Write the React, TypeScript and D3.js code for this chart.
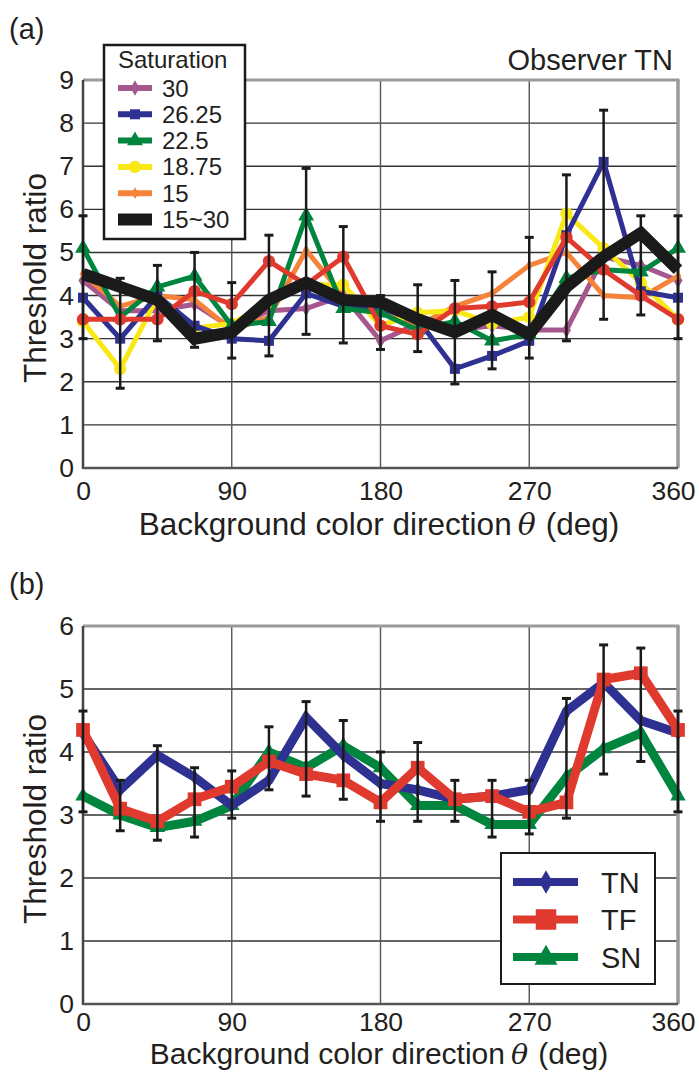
import React, { useEffect, useRef } from "react";
import * as d3 from "d3";

// background colour direction (deg), one point every 22.5 deg
const angles = [0, 22.5, 45, 67.5, 90, 112.5, 135, 157.5, 180, 202.5, 225, 247.5, 270, 292.5, 315, 337.5, 360];
const xTicks = [0, 90, 180, 270, 360];
const yTicksA = [0, 1, 2, 3, 4, 5, 6, 7, 8, 9];
const yTicksB = [0, 1, 2, 3, 4, 5, 6];

// (a) observer TN, one line per saturation
const sat30 = [4.35, 3.65, 3.65, 3.8, 3.25, 3.65, 3.7, 4.0, 2.95, 3.35, 3.2, 3.3, 3.2, 3.2, 4.9, 4.7, 4.35];
const sat2625 = [3.95, 3.0, 4.0, 3.3, 3.0, 2.95, 4.05, 3.75, 3.7, 3.45, 2.3, 2.6, 2.95, 5.4, 7.1, 4.1, 3.95];
const sat225 = [5.1, 3.5, 4.2, 4.45, 3.3, 3.4, 5.85, 3.7, 3.6, 3.2, 3.4, 2.95, 3.1, 4.4, 4.6, 4.55, 5.1];
const sat1875 = [3.4, 2.3, 3.95, 3.25, 3.35, 3.85, 4.25, 4.25, 3.3, 3.6, 3.65, 3.35, 3.5, 5.9, 5.1, 4.3, 3.45];
const sat15 = [4.5, 3.75, 4.0, 3.9, 3.2, 3.5, 5.05, 4.0, 3.6, 3.3, 3.75, 4.05, 4.7, 5.0, 4.0, 3.95, 4.45];
const satRed = [3.45, 3.45, 3.45, 4.1, 3.8, 4.8, 4.25, 4.9, 3.3, 3.1, 3.7, 3.75, 3.85, 5.35, 4.6, 4.0, 3.45];
const sat15to30 = [4.5, 4.2, 3.9, 3.0, 3.15, 3.9, 4.3, 3.9, 3.85, 3.45, 3.15, 3.55, 3.1, 4.2, 4.9, 5.45, 4.6];
const errHiA = [5.85, 4.4, 4.7, 5.0, 4.3, 5.4, 6.95, 5.6, 4.0, 4.25, 4.35, 4.55, 5.35, 6.8, 8.3, 5.85, 5.85];
const errLoA = [3.0, 1.85, 2.95, 2.8, 2.55, 2.6, 3.1, 2.9, 2.75, 2.7, 1.95, 2.3, 2.55, 2.95, 3.45, 3.55, 3.0];

// (b) three observers
const obsTN = [4.3, 3.4, 3.95, 3.6, 3.15, 3.55, 4.55, 3.95, 3.5, 3.4, 3.25, 3.3, 3.4, 4.65, 5.1, 4.5, 4.3];
const obsTF = [4.35, 3.1, 2.9, 3.25, 3.45, 3.85, 3.65, 3.55, 3.2, 3.75, 3.25, 3.3, 3.05, 3.2, 5.15, 5.25, 4.35];
const obsSN = [3.3, 3.0, 2.8, 2.9, 3.15, 4.0, 3.75, 4.1, 3.75, 3.15, 3.15, 2.85, 2.85, 3.6, 4.05, 4.3, 3.3];
const errHiB = [4.65, 3.55, 4.1, 3.75, 3.7, 4.4, 4.8, 4.5, 4.0, 4.15, 3.55, 3.55, 3.55, 4.85, 5.7, 5.65, 4.65];
const errLoB = [3.05, 2.75, 2.6, 2.65, 2.95, 3.4, 3.3, 3.25, 2.9, 2.9, 2.9, 2.65, 2.7, 2.95, 3.65, 3.85, 3.05];

const FONT = "'Liberation Sans', Arial, Helvetica, sans-serif";
const C = {
  purple: "#a5578e", blue: "#2e3192", green: "#00853f", yellow: "#f9e816",
  orange: "#f5843a", red: "#e03a2e", black: "#1a1a1a"
};

// draw order for panel (a)
const linesA = [
  { name: "30", v: sat30, color: C.purple, sym: d3.symbolDiamond, size: 70, w: 5 },
  { name: "15", v: sat15, color: C.orange, sym: d3.symbolDiamond, size: 40, w: 5 },
  { name: "18.75", v: sat1875, color: C.yellow, sym: d3.symbolCircle, size: 120, w: 5 },
  { name: "26.25", v: sat2625, color: C.blue, sym: d3.symbolSquare, size: 100, w: 5 },
  { name: "22.5", v: sat225, color: C.green, sym: d3.symbolTriangle, size: 110, w: 5 },
  { name: "", v: satRed, color: C.red, sym: d3.symbolCircle, size: 120, w: 5 },
  { name: "15~30", v: sat15to30, color: C.black, sym: null, size: 0, w: 12 }
];
const legendA = ["30", "26.25", "22.5", "18.75", "15", "15~30"];

const linesB = [
  { name: "SN", v: obsSN, color: C.green, sym: d3.symbolTriangle, size: 230 },
  { name: "TN", v: obsTN, color: C.blue, sym: d3.symbolDiamond, size: 160 },
  { name: "TF", v: obsTF, color: C.red, sym: d3.symbolSquare, size: 420 }
];
const legendB = ["TN", "TF", "SN"];

function drawPanel(svg, yMax, yTicks, top, bottom, lines, errLo, errHi, markerScale, tickPad, titleGap, titleSize) {
  const left = 83, right = 678;
  const x = d3.scaleLinear().domain([0, 360]).range([left, right]);
  const y = d3.scaleLinear().domain([0, yMax]).range([bottom, top]);
  const g = svg.append("g");

  // grid
  g.selectAll(".hg").data(yTicks.filter(d => d > 0 && d < yMax)).enter().append("line")
    .attr("x1", left).attr("x2", right).attr("y1", d => y(d)).attr("y2", d => y(d))
    .attr("stroke", "#333").attr("stroke-width", 1.4);
  g.selectAll(".vg").data(xTicks.filter(d => d > 0 && d < 360)).enter().append("line")
    .attr("x1", d => x(d)).attr("x2", d => x(d)).attr("y1", top).attr("y2", bottom)
    .attr("stroke", "#555").attr("stroke-width", 1.4);

  // frame
  g.append("line").attr("x1", left).attr("x2", right + 1.5).attr("y1", top).attr("y2", top)
    .attr("stroke", "#9a9a9a").attr("stroke-width", 3);
  g.append("line").attr("x1", right).attr("x2", right).attr("y1", top).attr("y2", bottom)
    .attr("stroke", "#9a9a9a").attr("stroke-width", 3.5);
  g.append("line").attr("x1", left).attr("x2", left).attr("y1", top).attr("y2", bottom + 1)
    .attr("stroke", "#444").attr("stroke-width", 2.5);
  g.append("line").attr("x1", left).attr("x2", right).attr("y1", bottom).attr("y2", bottom)
    .attr("stroke", "#555").attr("stroke-width", 2.5);

  // axes labels
  const ax = g.append("g").attr("transform", "translate(0," + bottom + ")")
    .call(d3.axisBottom(x).tickValues(xTicks).tickSize(0).tickPadding(tickPad).tickFormat(d3.format("d")));
  const ay = g.append("g").attr("transform", "translate(" + left + ",0)")
    .call(d3.axisLeft(y).tickValues(yTicks).tickSize(0).tickPadding(9).tickFormat(d3.format("d")));
  [ax, ay].forEach(a => {
    a.select(".domain").remove();
    a.selectAll("text").attr("font-size", 26.5).attr("font-family", FONT).attr("fill", "#231f20");
  });
  // keep "360" inside the page
  ax.selectAll("text").filter(d => d === 360).attr("dx", -5);

  const line = d3.line().x((d, i) => x(angles[i])).y(d => y(d));
  lines.forEach(s => {
    g.append("path").datum(s.v).attr("fill", "none").attr("stroke", s.color)
      .attr("stroke-width", s.w || 9).attr("stroke-linejoin", "miter").attr("stroke-miterlimit", 3)
      .attr("d", line);
    if (s.sym) {
      g.selectAll(null).data(s.v).enter().append("path")
        .attr("transform", (d, i) => "translate(" + x(angles[i]) + "," + y(d) + ")")
        .attr("d", d3.symbol().type(s.sym).size(s.size * markerScale))
        .attr("fill", s.color);
    }
  });

  // error bars
  const eb = g.append("g").attr("stroke", "#1a1a1a");
  angles.forEach((a, i) => {
    const cx = x(a);
    eb.append("line").attr("x1", cx).attr("x2", cx).attr("y1", y(errLo[i])).attr("y2", y(errHi[i]))
      .attr("stroke-width", 2.5);
    [errLo[i], errHi[i]].forEach(v => {
      eb.append("line").attr("x1", cx - 4.5).attr("x2", cx + 4.5).attr("y1", y(v)).attr("y2", y(v))
        .attr("stroke-width", 3);
    });
  });

  // titles
  const xt = g.append("text").attr("x", 379).attr("y", bottom + titleGap).attr("text-anchor", "middle")
    .attr("font-size", titleSize).attr("font-family", FONT).attr("fill", "#231f20")
    .text("Background color direction");
  xt.append("tspan").attr("dx", 6).attr("font-family", "'DejaVu Serif', serif").attr("font-style", "italic")
    .attr("font-size", titleSize - 1.5).text("\u03b8");
  xt.append("tspan").attr("dx", 10).text("(deg)");

  g.append("text").attr("transform", "translate(46," + ((top + bottom) / 2 + 4) + ") rotate(-90)")
    .attr("text-anchor", "middle").attr("font-size", 31.5).attr("font-family", FONT).attr("fill", "#231f20")
    .text("Threshold ratio");

  return { x, y, g };
}

export default function App() {
  const ref = useRef(null);

  useEffect(() => {
    document.body.style.margin = "0";
    const svg = d3.select(ref.current);
    svg.selectAll("*").remove();
    svg.append("rect").attr("width", 699).attr("height", 1073).attr("fill", "#fff");

    // ---- panel (a)
    drawPanel(svg, 9, yTicksA, 80, 468, linesA, errLoA, errHiA, 1, 13, 67, 31.5);
    svg.append("text").attr("x", 9).attr("y", 39).attr("font-size", 29).attr("font-family", FONT)
      .attr("fill", "#231f20").text("(a)");
    svg.append("text").attr("x", 673).attr("y", 70).attr("text-anchor", "end").attr("font-size", 29)
      .attr("font-family", FONT).attr("fill", "#231f20").text("Observer TN");

    const la = svg.append("g");
    la.append("rect").attr("x", 104).attr("y", 45).attr("width", 141).attr("height", 194)
      .attr("fill", "#fff").attr("stroke", "#1a1a1a").attr("stroke-width", 2.5);
    la.append("text").attr("x", 118).attr("y", 68).attr("font-size", 24).attr("font-family", FONT)
      .attr("fill", "#231f20").text("Saturation");
    legendA.forEach((name, i) => {
      const s = linesA.find(d => d.name === name);
      const cy = 88 + i * 26.3;
      la.append("line").attr("x1", 118).attr("x2", 152).attr("y1", cy).attr("y2", cy)
        .attr("stroke", s.color).attr("stroke-width", s.w === 12 ? 12 : 6);
      if (s.sym) {
        la.append("path").attr("transform", "translate(135," + cy + ")")
          .attr("d", d3.symbol().type(s.sym).size(s.size)).attr("fill", s.color);
      }
      la.append("text").attr("x", 162).attr("y", cy + 8.5).attr("font-size", 24).attr("font-family", FONT)
        .attr("fill", "#231f20").text(name);
    });

    // ---- panel (b)
    drawPanel(svg, 6, yTicksB, 626, 1004, linesB, errLoB, errHiB, 0.45, 8, 60, 30);
    svg.append("text").attr("x", 9).attr("y", 594).attr("font-size", 29).attr("font-family", FONT)
      .attr("fill", "#231f20").text("(b)");

    const lb = svg.append("g");
    lb.append("rect").attr("x", 501).attr("y", 853).attr("width", 154).attr("height", 131)
      .attr("fill", "#fff").attr("stroke", "#1a1a1a").attr("stroke-width", 2);
    legendB.forEach((name, i) => {
      const s = linesB.find(d => d.name === name);
      const cy = 882 + i * 37.5;
      lb.append("line").attr("x1", 513).attr("x2", 578).attr("y1", cy).attr("y2", cy)
        .attr("stroke", s.color).attr("stroke-width", 8);
      lb.append("path").attr("transform", "translate(546," + (name === "SN" ? cy + 1 : cy) + ")")
        .attr("d", d3.symbol().type(s.sym).size(s.size)).attr("fill", s.color);
      lb.append("text").attr("x", 601).attr("y", cy + 10.5).attr("font-size", 29).attr("font-family", FONT)
        .attr("fill", "#231f20").text(name);
    });
  }, []);

  return <svg ref={ref} width={699} height={1073} style={{ display: "block" }}></svg>;
}
